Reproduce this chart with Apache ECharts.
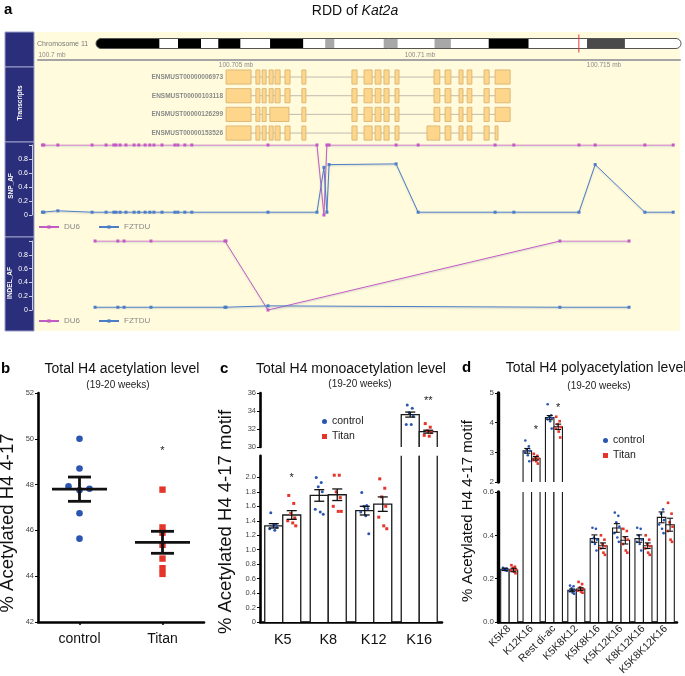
<!DOCTYPE html>
<html><head><meta charset="utf-8">
<script src="https://cdn.jsdelivr.net/npm/echarts@6/dist/echarts.min.js"></script>
<style>html,body{margin:0;padding:0;background:#fff}#c{width:685px;height:676px}</style>
</head><body><div id="c"></div>
<script>
// ================= DATA =================
// Panel a – chromosome 11 ideogram (Mb)
const chrLength = 122.0;
const chrMarker = 100.7;
const chrBands = [[0,13.2,'black'],[17.1,21.9,'black'],[25.5,30.1,'black'],[36.3,43.2,'black'],[47.8,49.7,'grey'],[60.0,62.9,'grey'],[70.6,74.0,'grey'],[81.9,90.2,'black'],[102.4,110.3,'dark']];
// genomic ruler ticks (Mb)
const rulerTicks = [100.7, 100.705, 100.71, 100.715];
// transcripts: exon [start,end] in Mb
const transcriptNames = ['ENSMUST00000006973','ENSMUST00000103118','ENSMUST00000126299','ENSMUST00000153526'];
const tx1 = [[100.70473,100.70541],[100.70554,100.70565],[100.70571,100.70582],[100.70590,100.70601],[100.70606,100.70620],[100.70633,100.70647],[100.70679,100.70690],[100.70815,100.70829],[100.70848,100.70870],[100.70878,100.70894],[100.70902,100.70916],[100.70932,100.70943],[100.71038,100.71054],[100.71068,100.71084],[100.71106,100.71117],[100.71128,100.71141],[100.71174,100.71188],[100.71204,100.71245]];
const tx2 = [[100.70473,100.70541],[100.70554,100.70565],[100.70571,100.70582],[100.70590,100.70601],[100.70606,100.70620],[100.70633,100.70647],[100.70679,100.70690],[100.70815,100.70829],[100.70848,100.70870],[100.70878,100.70894],[100.70902,100.70916],[100.70932,100.70943],[100.71038,100.71054],[100.71068,100.71084],[100.71106,100.71117],[100.71128,100.71141],[100.71174,100.71188],[100.71204,100.71245]];
const tx3 = [[100.70473,100.70541],[100.70554,100.70565],[100.70571,100.70582],[100.70592,100.70644],[100.70679,100.70690],[100.70815,100.70829],[100.70848,100.70870],[100.70878,100.70894],[100.70902,100.70916],[100.70932,100.70943],[100.71038,100.71054],[100.71068,100.71084],[100.71106,100.71117],[100.71128,100.71141],[100.71174,100.71188],[100.71204,100.71245]];
const tx4 = [[100.70473,100.70541],[100.70554,100.70565],[100.70571,100.70582],[100.70590,100.70601],[100.70606,100.70620],[100.70633,100.70647],[100.70679,100.70690],[100.70815,100.70829],[100.70848,100.70870],[100.70878,100.70894],[100.70902,100.70916],[100.70932,100.70943],[100.71019,100.71054],[100.71068,100.71084],[100.71106,100.71117],[100.71128,100.71141],[100.71174,100.71188],[100.71204,100.71212]];
// SNP allele frequency
const snpPos = [100.69974,100.69978,100.70016,100.70109,100.70147,100.70168,100.70174,100.70185,100.70201,100.70223,100.70236,100.70253,100.70266,100.70277,100.70299,100.70334,100.70342,100.70361,100.70380,100.70587,100.70720,100.70739,100.70747,100.70753,100.70935,100.70995,100.71204,100.71255,100.71432,100.71476,100.71611,100.71688];
const snpDU6 = [1,1,1,1,1,1,1,1,1,1,1,1,1,1,1,1,1,1,1,1,1,0,1,1,1,1,1,1,1,1,1,1];
const snpFZTDU = [0.04,0.04,0.06,0.04,0.04,0.04,0.04,0.04,0.04,0.04,0.04,0.04,0.04,0.04,0.04,0.04,0.04,0.04,0.04,0.04,0.04,0.68,0.04,0.72,0.73,0.04,0.04,0.04,0.04,0.72,0.04,0.04];
// INDEL allele frequency
const indelPos = [100.70117,100.70179,100.70196,100.70269,100.70470,100.70473,100.70587,100.71380,100.71568];
const indelDU6 = [1,1,1,1,1,1,0,1,1];
const indelFZTDU = [0.04,0.04,0.04,0.04,0.04,0.04,0.06,0.04,0.04];

// Panel b – total H4 acetylation
const bCats = ['control','Titan'];
const bControl = [50.0,48.7,47.93,47.75,47.82,46.75,45.64];
const bTitan = [47.78,46.13,45.9,45.37,44.77,44.35,44.1];
const bMean = [47.80,45.48];
const bSem = [0.53,0.48];
const bSig = ['','*'];
const bSigAt = [null,49.6];

// Panel c – monoacetylation
const cCats = ['K5','K8','K12','K16'];
const cCtrlMean = [1.33,1.75,1.54,33.6];
const cCtrlSem = [0.03,0.08,0.06,0.28];
const cTitanMean = [1.48,1.76,1.63,31.7];
const cTitanSem = [0.06,0.08,0.10,0.16];
const cCtrlPts = [[1.51,1.35,1.33,1.31,1.29,1.27],[2.0,1.93,1.87,1.80,1.56,1.52,1.49],[1.79,1.61,1.60,1.57,1.52,1.47,1.22],[34.67,34.3,33.8,33.44,32.5,32.5]];
const cTitanPts = [[1.75,1.64,1.50,1.44,1.40,1.37,1.33],[2.03,2.03,1.80,1.72,1.60,1.53,1.53],[1.98,1.85,1.73,1.60,1.45,1.33,1.29],[32.6,32.2,31.8,31.6,31.3,31.2]];
const cSig = ['*','','','**'];
const cSigAt = [2.03,null,null,35.45];

// Panel d – polyacetylation
const dCats = ['K5K8','K12K16','Rest di-ac','K5K8K12','K5K8K16','K5K12K16','K8K12K16','K5K8K12K16'];
const dCtrlMean = [0.243,3.05,4.17,0.146,0.385,0.434,0.385,0.483];
const dCtrlSem = [0.005,0.08,0.07,0.006,0.017,0.02,0.017,0.025];
const dTitanMean = [0.240,2.80,3.86,0.152,0.352,0.377,0.352,0.449];
const dTitanSem = [0.008,0.06,0.09,0.006,0.013,0.017,0.013,0.03];
const dCtrlPts = [[0.250,0.247,0.245,0.243,0.240,0.238,0.236],[3.40,3.20,3.10,3.05,3.00,2.90,2.70],[4.62,4.25,4.20,4.15,4.12,4.05,3.80],[0.168,0.165,0.155,0.148,0.142,0.135,0.130],[0.435,0.430,0.390,0.380,0.370,0.360,0.330],[0.505,0.490,0.460,0.440,0.410,0.390,0.370],[0.435,0.430,0.400,0.380,0.370,0.360,0.330],[0.610,0.520,0.500,0.470,0.450,0.430,0.410]];
const dTitanPts = [[0.262,0.255,0.250,0.243,0.238,0.232,0.225],[2.95,2.88,2.83,2.78,2.74,2.70,2.62],[4.20,4.05,3.95,3.85,3.80,3.70,3.50],[0.185,0.175,0.160,0.152,0.145,0.140,0.135],[0.400,0.380,0.360,0.350,0.340,0.320,0.310],[0.430,0.420,0.390,0.380,0.360,0.330,0.320],[0.400,0.380,0.360,0.350,0.340,0.320,0.310],[0.550,0.500,0.460,0.440,0.420,0.380,0.370]];
const dSig = ['','*','*','','','','',''];
const dSigAt = [null,3.85,4.59,null,null,null,null,null];

// ================= STYLE =================
const FONT = '"Liberation Sans", Arial, Helvetica, sans-serif';
const BLUE = '#2A56B2', RED = '#E5352B';
const DU6C = '#C35BC5', FZC = '#4C7DC6';
const GEN_MIN = 100.69962, GEN_MAX = 100.717065;
const STAIN = {black:'#000000', grey:'#A8A8A8', dark:'#4A4A4A'};
const JIT_C = [-3,2,-1,3,-4,1,4];
const JIT_D = [-2,1.5,-0.5,2.5,-2.5,0.5,2];
const JIT_B_CTRL = [0,0,-11,0,10,0,0];

// ================= HELPERS =================
function T(x, y, text, o) {
  o = o || {};
  return { type:'text', x:x, y:y, rotation:o.rot||0, z:20,
    style:{ text:text, fill:o.color||'#111', fontSize:o.size||12, fontFamily:FONT,
      fontWeight:o.weight||'normal', fontStyle:o.fstyle||'normal',
      align:o.align||'center', verticalAlign:'middle', textAlign:o.align||'center', textVerticalAlign:'middle',
      rich:o.rich } };
}
function barRender(barW, lw) {
  return function (params, api) {
    const cs = params.coordSys;
    const ci = api.value(0), v = api.value(1), side = api.value(2);
    const p = api.coord([ci, v]);
    const yBot = cs.y + cs.height, yTop = cs.y;
    if (p[1] > yBot + 0.5) return null;
    const x0 = side === 0 ? p[0] - barW : p[0];
    const x1 = x0 + barW;
    const yv = Math.max(p[1], yTop);
    const st = {stroke:'#1a1a1a', lineWidth:lw, fill:'none'};
    const kids = [{type:'rect', shape:{x:x0, y:yv, width:barW, height:yBot - yv}, style:{fill:'#fff'}}];
    if (p[1] >= yTop - 0.5) {
      kids.push({type:'polyline', shape:{points:[[x0,yBot],[x0,yv],[x1,yv],[x1,yBot]]}, style:st});
    } else {
      kids.push({type:'line', shape:{x1:x0,y1:yBot,x2:x0,y2:yTop}, style:st});
      kids.push({type:'line', shape:{x1:x1,y1:yBot,x2:x1,y2:yTop}, style:st});
    }
    return {type:'group', children:kids};
  };
}
function errRender(barW, capW, lw) {
  return function (params, api) {
    const cs = params.coordSys;
    const ci = api.value(0), m = api.value(1), side = api.value(2), s = api.value(3);
    const pm = api.coord([ci, m]);
    if (pm[1] < cs.y - 0.5 || pm[1] > cs.y + cs.height + 0.5) return null;
    const xc = side === 0 ? pm[0] - barW / 2 : pm[0] + barW / 2;
    const yh = api.coord([ci, m + s])[1], yl = api.coord([ci, m - s])[1];
    const st = {stroke:'#111', lineWidth:lw};
    return {type:'group', children:[
      {type:'line', shape:{x1:xc,y1:yh,x2:xc,y2:yl}, style:st},
      {type:'line', shape:{x1:xc-capW/2,y1:yh,x2:xc+capW/2,y2:yh}, style:st},
      {type:'line', shape:{x1:xc-capW/2,y1:yl,x2:xc+capW/2,y2:yl}, style:st}
    ]};
  };
}
function dotRender(barW, size, shape, color, jit) {
  return function (params, api) {
    const cs = params.coordSys;
    const ci = api.value(0), v = api.value(1), side = api.value(2), k = api.value(3);
    const p = api.coord([ci, v]);
    if (p[1] < cs.y - 0.5 || p[1] > cs.y + cs.height + 0.5) return null;
    const xc = (side === 0 ? p[0] - barW / 2 : p[0] + barW / 2) + jit[k % jit.length];
    if (shape === 'circle') return {type:'circle', shape:{cx:xc, cy:p[1], r:size/2}, style:{fill:color}};
    return {type:'rect', shape:{x:xc-size/2, y:p[1]-size/2, width:size, height:size}, style:{fill:color}};
  };
}
function sigRender(barW, labels, size) {
  return function (params, api) {
    const cs = params.coordSys;
    const ci = api.value(0), v = api.value(1), side = api.value(2);
    const p = api.coord([ci, v]);
    if (p[1] < cs.y - 2 || p[1] > cs.y + cs.height + 2) return null;
    const xc = side === 0 ? p[0] - barW / 2 : p[0] + barW / 2;
    return {type:'text', x:xc, y:p[1] + size * 0.28, style:{text:labels[ci], fill:'#222', fontSize:size, fontFamily:FONT, align:'center', verticalAlign:'middle', textAlign:'center', textVerticalAlign:'middle'}};
  };
}
const barData = (means, side) => means.map((m, i) => [i, m, side]);
const errData = (means, sems, side) => means.map((m, i) => [i, m, side, sems[i]]);
const dotData = (pts, side) => { const o = []; pts.forEach((a, i) => a.forEach((v, k) => o.push([i, v, side, k]))); return o; };
const sigData = (labels, at, side) => labels.map((l, i) => [i, at[i], side]).filter((d, i) => labels[i] !== '');

function panelSeries(prefix, xi, barW, capW, lw, dotSize, jit, ctrlMean, ctrlSem, titMean, titSem, ctrlPts, titPts, sig, sigAt) {
  return [
    {type:'custom', name:prefix+'bc', xAxisIndex:xi, yAxisIndex:xi, renderItem:barRender(barW, lw), data:barData(ctrlMean,0), z:2},
    {type:'custom', name:prefix+'bt', xAxisIndex:xi, yAxisIndex:xi, renderItem:barRender(barW, lw), data:barData(titMean,1), z:2},
    {type:'custom', name:prefix+'ec', xAxisIndex:xi, yAxisIndex:xi, renderItem:errRender(barW, capW, lw), data:errData(ctrlMean,ctrlSem,0), z:4},
    {type:'custom', name:prefix+'et', xAxisIndex:xi, yAxisIndex:xi, renderItem:errRender(barW, capW, lw), data:errData(titMean,titSem,1), z:4},
    {type:'custom', name:prefix+'dc', xAxisIndex:xi, yAxisIndex:xi, itemStyle:{color:BLUE}, renderItem:dotRender(barW, dotSize, 'circle', BLUE, jit), data:dotData(ctrlPts,0), z:3},
    {type:'custom', name:prefix+'dt', xAxisIndex:xi, yAxisIndex:xi, itemStyle:{color:RED}, renderItem:dotRender(barW, dotSize, 'rect', RED, jit), data:dotData(titPts,1), z:3},
    {type:'custom', name:prefix+'sg', xAxisIndex:xi, yAxisIndex:xi, renderItem:sigRender(barW, sig, 11), data:sigData(sig, sigAt, 1), z:5}
  ];
}

// ================= LAYOUT =================
const G = (left, top, width, height) => ({left, top, width, height, containLabel:false, outerBoundsMode:'none'});
const grids = [
  G(96, 38.5, 585, 10),      // 0 ideogram
  G(38, 59, 642, 1),         // 1 ruler
  G(38, 67.7, 642, 74.7),    // 2 transcripts
  G(38, 145, 642, 70),       // 3 SNP
  G(38, 241, 642, 69),       // 4 INDEL
  G(38, 393, 166, 229),      // 5 panel b
  G(260, 393, 182, 54),      // 6 c upper
  G(260, 455.7, 182, 166.3), // 7 c lower
  G(498, 393, 179, 89),      // 8 d upper
  G(498, 492, 179, 130)      // 9 d lower
];
const hiddenVal = (gi, min, max) => ({gridIndex:gi, type:'value', min, max, show:false, splitLine:{show:false}});
const blackLine = (w) => ({show:true, onZero:false, lineStyle:{color:'#000', width:w}});
const tickLab = (size, extra) => Object.assign({fontSize:size, color:'#444', fontFamily:FONT, margin:4}, extra||{});
const afAxis = (gi) => ({gridIndex:gi, type:'value', min:0, max:1, interval:0.2, offset:6,
  axisLine:{show:true, lineStyle:{color:'#c9cbe0', width:1}}, axisTick:{show:true, length:3, lineStyle:{color:'#c9cbe0'}},
  axisLabel:{fontSize:7, color:'#fff', margin:4, fontFamily:FONT, formatter:(v) => v >= 1 ? '' : String(+v.toFixed(1))}, splitLine:{show:false}});

const xAxes = [
  hiddenVal(0, 0, chrLength),
  {gridIndex:1, type:'value', min:GEN_MIN, max:GEN_MAX, axisLine:{show:true, onZero:false, lineStyle:{color:'#a5a5a5', width:2}}, axisTick:{show:false}, axisLabel:{show:false}, splitLine:{show:false}},
  hiddenVal(2, GEN_MIN, GEN_MAX),
  hiddenVal(3, GEN_MIN, GEN_MAX),
  hiddenVal(4, GEN_MIN, GEN_MAX),
  {gridIndex:5, type:'category', data:bCats, axisLine:blackLine(2.6), axisTick:{show:true, alignWithLabel:true, length:3, lineStyle:{color:'#000', width:1.5}}, axisLabel:{fontSize:14, color:'#111', margin:10, fontFamily:FONT}},
  {gridIndex:6, type:'category', data:cCats, show:false},
  {gridIndex:7, type:'category', data:cCats, axisLine:blackLine(2.6), axisTick:{show:false}, axisLabel:{fontSize:14.5, color:'#111', margin:10, fontFamily:FONT, interval:0}},
  {gridIndex:8, type:'category', data:dCats, show:false},
  {gridIndex:9, type:'category', data:dCats, axisLine:blackLine(2.6), axisTick:{show:false}, axisLabel:{fontSize:10.5, color:'#222', margin:5, fontFamily:FONT, interval:0, rotate:45}}
];
const yAxes = [
  hiddenVal(0, 0, 1),
  hiddenVal(1, 0, 1),
  {gridIndex:2, type:'category', data:transcriptNames, inverse:true, axisLine:{show:false}, axisTick:{show:false}, splitLine:{show:false},
    axisLabel:{margin:-185, align:'right', fontSize:6.5, fontWeight:'bold', color:'#8a8a8a', fontFamily:FONT}},
  afAxis(3),
  afAxis(4),
  {gridIndex:5, type:'value', min:42, max:52, interval:2, axisLine:blackLine(2.6), axisTick:{show:true, length:3, lineStyle:{color:'#000'}}, axisLabel:tickLab(7.5), splitLine:{show:false}},
  {gridIndex:6, type:'value', min:30, max:36, interval:2, axisLine:blackLine(2.6), axisTick:{show:true, length:3, lineStyle:{color:'#000'}}, axisLabel:tickLab(7.5), splitLine:{show:false}},
  {gridIndex:7, type:'value', min:0, max:2.3, interval:0.2, axisLine:blackLine(2.6),
    axisTick:{show:true, length:3, lineStyle:{color:'#000'}, customValues:[0,0.2,0.4,0.6,0.8,1.0,1.2,1.4,1.6,1.8,2.0,2.2]},
    axisLabel:tickLab(7.5, {showMaxLabel:false, customValues:[0,0.2,0.4,0.6,0.8,1.0,1.2,1.4,1.6,1.8,2.0,2.2], formatter:(v) => v === 0 ? '0' : v.toFixed(1)}), splitLine:{show:false}},
  {gridIndex:8, type:'value', min:2, max:5, interval:1, axisLine:blackLine(3.4), axisTick:{show:true, length:3, lineStyle:{color:'#000'}}, axisLabel:tickLab(8), splitLine:{show:false}},
  {gridIndex:9, type:'value', min:0, max:0.6, interval:0.2, axisLine:blackLine(3.4), axisTick:{show:true, length:3, lineStyle:{color:'#000'}}, axisLabel:tickLab(8, {formatter:(v) => v.toFixed(1)}), splitLine:{show:false}}
];

// ================= SERIES =================
const series = [];
// ideogram
series.push({type:'custom', name:'chrFill', xAxisIndex:0, yAxisIndex:0, data:[[0, 0, chrLength]], z:1,
  renderItem:(params, api) => { const cs = params.coordSys; const a = api.coord([api.value(0), 0]), b = api.coord([api.value(2), 0]);
    return {type:'rect', shape:{x:a[0], y:cs.y, width:b[0]-a[0], height:cs.height, r:cs.height/2}, style:{fill:'#fff'}}; }});
series.push({type:'custom', name:'chrBands', xAxisIndex:0, yAxisIndex:0, z:2,
  data:chrBands.map((b, i) => [b[0], 0, b[1], i]),
  renderItem:(params, api) => { const cs = params.coordSys; const s = api.value(0), e = api.value(2), k = api.value(3);
    const a = api.coord([s, 0]), b = api.coord([e, 0]); const h = cs.height;
    return {type:'rect', shape:{x:a[0], y:cs.y, width:b[0]-a[0], height:h, r: s === 0 ? [h/2,0,0,h/2] : 0}, style:{fill:STAIN[chrBands[k][2]]}}; }});
series.push({type:'custom', name:'chrOutline', xAxisIndex:0, yAxisIndex:0, data:[[0, 0, chrLength]], z:3,
  renderItem:(params, api) => { const cs = params.coordSys; const a = api.coord([api.value(0), 0]), b = api.coord([api.value(2), 0]);
    return {type:'rect', shape:{x:a[0], y:cs.y, width:b[0]-a[0], height:cs.height, r:cs.height/2}, style:{fill:'none', stroke:'#555', lineWidth:1}}; }});
series.push({type:'custom', name:'chrMarker', xAxisIndex:0, yAxisIndex:0, data:[[chrMarker, 0]], z:4,
  renderItem:(params, api) => { const cs = params.coordSys; const a = api.coord([api.value(0), 0]);
    return {type:'line', shape:{x1:a[0], y1:cs.y-4, x2:a[0], y2:cs.y+cs.height+4}, style:{stroke:'#E23A3A', lineWidth:1}}; }});
// ruler labels
series.push({type:'custom', name:'ruler', xAxisIndex:1, yAxisIndex:1, data:rulerTicks.map((v, i) => [v, 0, i]), z:5,
  renderItem:(params, api) => { const cs = params.coordSys; const v = api.value(0), i = api.value(2); const a = api.coord([v, 0]);
    const y = (i % 2 === 0) ? cs.y + cs.height - 4.5 : cs.y + cs.height + 5;
    return {type:'text', x:a[0], y:y, style:{text: rulerTicks[i] + ' mb', fontSize:6.5, fill:'#8a8a8a', fontFamily:FONT, align:'center', verticalAlign:'middle', textAlign:'center', textVerticalAlign:'middle'}}; }});
// transcripts
const transcripts = [tx1, tx2, tx3, tx4];
series.push({type:'custom', name:'introns', xAxisIndex:2, yAxisIndex:2, z:2,
  data:transcripts.map((t, r) => [t[0][0], r, t[t.length-1][1]]),
  renderItem:(params, api) => { const a = api.coord([api.value(0), api.value(1)]), b = api.coord([api.value(2), api.value(1)]);
    return {type:'line', shape:{x1:a[0], y1:a[1], x2:b[0], y2:b[1]}, style:{stroke:'#b9b4aa', lineWidth:0.9}}; }});
const exonTable = []; transcripts.forEach((t, r) => t.forEach(e => exonTable.push([e[0], r, e[1]])));
series.push({type:'custom', name:'exons', xAxisIndex:2, yAxisIndex:2, z:3, data:exonTable,
  renderItem:(params, api) => { const a = api.coord([api.value(0), api.value(1)]), b = api.coord([api.value(2), api.value(1)]);
    const h = api.size([0, 1])[1] * 0.76;
    return {type:'rect', shape:{x:a[0], y:a[1]-h/2, width:Math.max(b[0]-a[0], 2), height:h}, style:{fill:'#FDD68C', stroke:'#D7AE6C', lineWidth:0.8}}; }});
// SNP & INDEL lines
const afLine = (name, xi, pos, vals, color) => ({type:'line', name, xAxisIndex:xi, yAxisIndex:xi, data:pos.map((p, i) => [p, vals[i]]),
  symbol:'rect', symbolSize:3, showSymbol:true, itemStyle:{color}, lineStyle:{color, width:1, shadowColor:'rgba(120,140,170,0.35)', shadowBlur:1.5, shadowOffsetY:1.2}, z:3, silent:true});
series.push(afLine('DU6', 3, snpPos, snpDU6, DU6C));
series.push(afLine('FZTDU', 3, snpPos, snpFZTDU, FZC));
series.push(afLine('DU6', 4, indelPos, indelDU6, DU6C));
series.push(afLine('FZTDU', 4, indelPos, indelFZTDU, FZC));
// panel b
series.push({type:'custom', name:'control', xAxisIndex:5, yAxisIndex:5, itemStyle:{color:BLUE}, z:3,
  data:bControl.map((v, k) => [0, v, k]),
  renderItem:(params, api) => { const p = api.coord([api.value(0), api.value(1)]); const k = api.value(2);
    return {type:'circle', shape:{cx:p[0] + JIT_B_CTRL[k], cy:p[1], r:3.3}, style:{fill:BLUE}}; }});
series.push({type:'custom', name:'Titan', xAxisIndex:5, yAxisIndex:5, itemStyle:{color:RED}, z:3,
  data:bTitan.map((v, k) => [1, v, k]),
  renderItem:(params, api) => { const p = api.coord([api.value(0), api.value(1)]);
    return {type:'rect', shape:{x:p[0]-3.2, y:p[1]-3.2, width:6.4, height:6.4}, style:{fill:RED}}; }});
series.push({type:'custom', name:'bMeanSem', xAxisIndex:5, yAxisIndex:5, z:4,
  data:bMean.map((m, i) => [i, m, bSem[i]]),
  renderItem:(params, api) => { const ci = api.value(0), m = api.value(1), s = api.value(2);
    const pm = api.coord([ci, m]), ph = api.coord([ci, m + s]), pl = api.coord([ci, m - s]); const st = {stroke:'#111', lineWidth:2.8};
    return {type:'group', children:[
      {type:'line', shape:{x1:pm[0]-27.5, y1:pm[1], x2:pm[0]+27.5, y2:pm[1]}, style:st},
      {type:'line', shape:{x1:pm[0], y1:ph[1], x2:pm[0], y2:pl[1]}, style:st},
      {type:'line', shape:{x1:pm[0]-11.5, y1:ph[1], x2:pm[0]+11.5, y2:ph[1]}, style:st},
      {type:'line', shape:{x1:pm[0]-11.5, y1:pl[1], x2:pm[0]+11.5, y2:pl[1]}, style:st}]}; }});
series.push({type:'custom', name:'bSig', xAxisIndex:5, yAxisIndex:5, z:5,
  data:bSig.map((l, i) => [i, bSigAt[i]]).filter((d, i) => bSig[i] !== ''),
  renderItem:(params, api) => { const ci = api.value(0); const p = api.coord([ci, api.value(1)]);
    return {type:'text', x:p[0], y:p[1] + 3, style:{text:bSig[ci], fontSize:11, fill:'#222', fontFamily:FONT, align:'center', verticalAlign:'middle', textAlign:'center', textVerticalAlign:'middle'}}; }});
// panels c & d
series.push(...panelSeries('cl', 7, 18, 10, 1.3, 3, JIT_C, cCtrlMean, cCtrlSem, cTitanMean, cTitanSem, cCtrlPts, cTitanPts, cSig, cSigAt));
series.push(...panelSeries('cu', 6, 18, 10, 1.3, 3, JIT_C, cCtrlMean, cCtrlSem, cTitanMean, cTitanSem, cCtrlPts, cTitanPts, cSig, cSigAt));
series.push(...panelSeries('dl', 9, 8.5, 6, 1.1, 2.6, JIT_D, dCtrlMean, dCtrlSem, dTitanMean, dTitanSem, dCtrlPts, dTitanPts, dSig, dSigAt));
series.push(...panelSeries('du', 8, 8.5, 6, 1.1, 2.6, JIT_D, dCtrlMean, dCtrlSem, dTitanMean, dTitanSem, dCtrlPts, dTitanPts, dSig, dSigAt));

// ================= DECORATION =================
const graphics = [
  {type:'rect', z:-10, shape:{x:5, y:32, width:675, height:299}, style:{fill:'#FFFBDC'}},
  {type:'rect', z:-9, shape:{x:5, y:32, width:29, height:35}, style:{fill:'#2B2E7A', stroke:'#9a9ec8', lineWidth:1}},
  {type:'rect', z:-9, shape:{x:5, y:67, width:29, height:75}, style:{fill:'#2B2E7A', stroke:'#9a9ec8', lineWidth:1}},
  {type:'rect', z:-9, shape:{x:5, y:142, width:29, height:95}, style:{fill:'#2B2E7A', stroke:'#9a9ec8', lineWidth:1}},
  {type:'rect', z:-9, shape:{x:5, y:237, width:29, height:94}, style:{fill:'#2B2E7A', stroke:'#9a9ec8', lineWidth:1}},
  T(20, 103, 'Transcripts', {rot:Math.PI/2, size:6.5, color:'#fff', weight:'bold'}),
  T(11, 186, 'SNP_AF', {rot:Math.PI/2, size:6.5, color:'#fff', weight:'bold'}),
  T(10, 283, 'INDEL_AF', {rot:Math.PI/2, size:6.5, color:'#fff', weight:'bold'}),
  T(37, 44, 'Chromosome 11', {align:'left', size:7, color:'#7a7a7a'}),
  T(4, 10, 'a', {align:'left', size:15, weight:'bold', color:'#000'}),
  T(355, 11, 'RDD of {i|Kat2a}', {size:14, color:'#111', rich:{i:{fontStyle:'italic', fontSize:14, fontFamily:FONT, fill:'#111'}}}),
  T(1, 369, 'b', {align:'left', size:15, weight:'bold', color:'#000'}),
  T(122, 369, 'Total H4 acetylation level', {size:14}),
  T(118, 385, '(19-20 weeks)', {size:10, color:'#222'}),
  T(8, 523, '% Acetylated H4 4-17', {rot:Math.PI/2, size:18.5, color:'#111'}),
  T(220, 369, 'c', {align:'left', size:15, weight:'bold', color:'#000'}),
  T(351, 369, 'Total H4 monoacetylation level', {size:14}),
  T(360, 384, '(19-20 weeks)', {size:10, color:'#222'}),
  T(226, 522, '% Acetylated H4 4-17 motif', {rot:Math.PI/2, size:18.5, color:'#111'}),
  T(462, 368, 'd', {align:'left', size:15, weight:'bold', color:'#000'}),
  T(596, 368, 'Total H4 polyacetylation level', {size:14}),
  T(599, 386, '(19-20 weeks)', {size:10, color:'#222'}),
  T(468, 511, '% Acetylated H4 4-17 motif', {rot:Math.PI/2, size:15, color:'#111'})
];

const legendCommon = {selectedMode:false, orient:'horizontal', padding:0, textStyle:{fontSize:8, color:'#888', fontFamily:FONT}};
const option = {
  animation:false,
  backgroundColor:'#fff',
  textStyle:{fontFamily:FONT},
  grid:grids, xAxis:xAxes, yAxis:yAxes,
  legend:[
    Object.assign({}, legendCommon, {left:38, top:223, data:['DU6','FZTDU'], itemWidth:20, itemHeight:4, itemGap:18}),
    Object.assign({}, legendCommon, {left:38, top:317, data:['DU6','FZTDU'], itemWidth:20, itemHeight:4, itemGap:18}),
    {selectedMode:false, orient:'vertical', padding:0, left:322, top:416, itemWidth:5, itemHeight:5, itemGap:4,
      data:[{name:'control', icon:'circle'},{name:'Titan', icon:'rect'}], textStyle:{fontSize:10.5, color:'#222', fontFamily:FONT}},
    {selectedMode:false, orient:'vertical', padding:0, left:603, top:435, itemWidth:5, itemHeight:5, itemGap:4,
      data:[{name:'control', icon:'circle'},{name:'Titan', icon:'rect'}], textStyle:{fontSize:10.5, color:'#222', fontFamily:FONT}}
  ],
  graphic:{elements:graphics},
  series:series
};
const chart = echarts.init(document.getElementById('c'), null, {renderer:'canvas'});
chart.setOption(option);
</script></body></html>
